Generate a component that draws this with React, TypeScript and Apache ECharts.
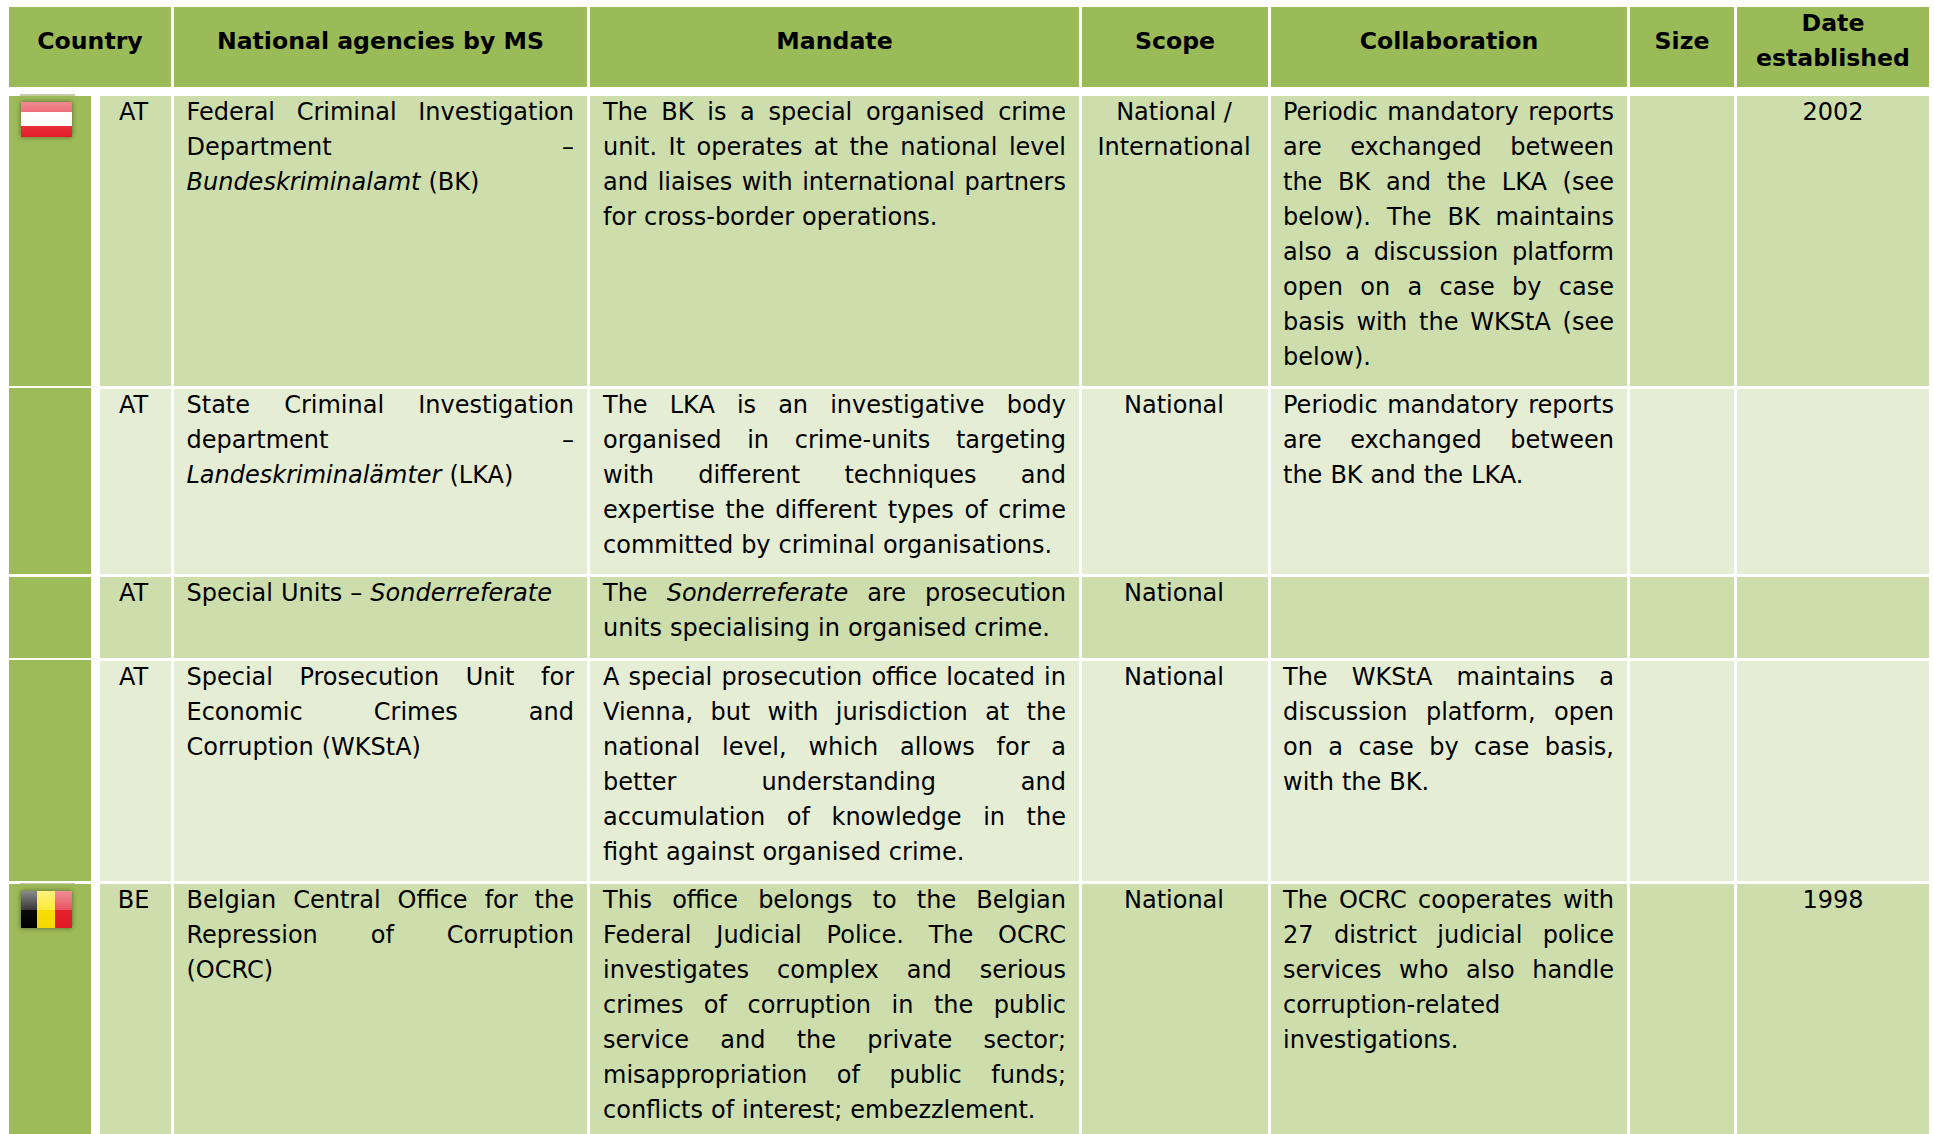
import React, { useEffect, useRef } from "react";
import * as echarts from "echarts";

const WIDTH = 1934;
const HEIGHT = 1134;

const headers = [["Country"], ["National agencies by MS"], ["Mandate"], ["Scope"], ["Collaboration"], ["Size"], ["Date", "established"]];
const countries = ["AT", "AT", "AT", "AT", "BE"];
const agencies = [
  ["Federal Criminal Investigation", "Department –", "*Bundeskriminalamt* (BK)"],
  ["State Criminal Investigation", "department –", "*Landeskriminalämter* (LKA)"],
  ["Special Units – *Sonderreferate*"],
  ["Special Prosecution Unit for", "Economic Crimes and", "Corruption (WKStA)"],
  ["Belgian Central Office for the", "Repression of Corruption", "(OCRC)"],
];
const mandates = [
  ["The BK is a special organised crime", "unit. It operates at the national level", "and liaises with international partners", "for cross-border operations."],
  ["The LKA is an investigative body", "organised in crime-units targeting", "with different techniques and", "expertise the different types of crime", "committed by criminal organisations."],
  ["The *Sonderreferate* are prosecution", "units specialising in organised crime."],
  ["A special prosecution office located in", "Vienna, but with jurisdiction at the", "national level, which allows for a", "better understanding and", "accumulation of knowledge in the", "fight against organised crime."],
  ["This office belongs to the Belgian", "Federal Judicial Police. The OCRC", "investigates complex and serious", "crimes of corruption in the public", "service and the private sector;", "misappropriation of public funds;", "conflicts of interest; embezzlement."],
];
const scopes = [["National /", "International"], ["National"], ["National"], ["National"], ["National"]];
const collaborations = [
  ["Periodic mandatory reports", "are exchanged between", "the BK and the LKA (see", "below). The BK maintains", "also a discussion platform", "open on a case by case", "basis with the WKStA (see", "below)."],
  ["Periodic mandatory reports", "are exchanged between", "the BK and the LKA."],
  [],
  ["The WKStA maintains a", "discussion platform, open", "on a case by case basis,", "with the BK."],
  ["The OCRC cooperates with", "27 district judicial police", "services who also handle", "corruption-related", "investigations."],
];
const sizes = ["", "", "", "", ""];
const dates = ["2002", "", "", "", "1998"];

const FONT = '"DejaVu Sans"';
const SIZE = 24;
const HEAD_SIZE = 23.6;
const LINE = 35;
const SPACE = 8;
const BASE_TO_CENTER = 8;

const colX = [[9, 91], [100, 171], [174, 587], [590, 1079], [1082, 1268], [1271, 1627], [1630, 1734], [1737, 1929]];
const headerX = [[9, 171], [174, 587], [590, 1079], [1082, 1268], [1271, 1627], [1630, 1734], [1737, 1929]];
const rowY = [[96, 386], [389, 574], [577, 658], [661, 881], [884, 1134]];
const firstColY = [[96, 386], [388, 574], [577, 658], [660, 881], [884, 1134]];
const HEADER_Y = [7, 87];
const PAD_L = [186.5, 603, 1283];
const PAD_R = [574, 1066, 1614];

const canvas = document.createElement("canvas");
const ctx = canvas.getContext("2d")!;
const measure = (t: string, font: string) => {
  ctx.font = font;
  return ctx.measureText(t).width;
};
const fontOf = (italic: boolean, bold = false) => `${italic ? "italic " : ""}${bold ? "bold " : ""}${bold ? HEAD_SIZE : SIZE}px ${FONT}`;

type Word = { x: number; y: number; text: string; font: string; align: string };
type Cell = { x0: number; y0: number; x1: number; y1: number; fill: string };

const words: Word[] = [];
const cells: Cell[] = [];

const HEAD = "#9BBB59";
const BAND1 = "#CDDDAC";
const BAND2 = "#E6EDD5";
const FIRST = "#9DBB59";

headerX.forEach(([a, b]) => cells.push({ x0: a, x1: b, y0: HEADER_Y[0], y1: HEADER_Y[1], fill: HEAD }));
rowY.forEach(([t, b], r) => {
  cells.push({ x0: colX[0][0], x1: colX[0][1], y0: firstColY[r][0], y1: firstColY[r][1], fill: FIRST });
  colX.slice(1).forEach(([a, c]) => cells.push({ x0: a, x1: c, y0: t, y1: b, fill: r % 2 === 0 ? BAND1 : BAND2 }));
});

headers.forEach((lines, i) => {
  const cx = (headerX[i][0] + headerX[i][1]) / 2;
  const ys = lines.length === 2 ? [31, 66] : [49];
  lines.forEach((l, k) => words.push({ x: cx, y: ys[k], text: l, font: fontOf(false, true), align: "center" }));
});

const justified = (lines: string[], col: number, top: number) => {
  lines.forEach((line, li) => {
    const y = top + 24 + li * LINE;
    const tokens = line.split(" ").map((w) => {
      const it = w.startsWith("*");
      return { text: w.replace(/\*/g, ""), font: fontOf(it) };
    });
    const total = tokens.reduce((s, t) => s + measure(t.text, t.font), 0);
    const last = li === lines.length - 1;
    const gap = last || tokens.length < 2 ? SPACE : (PAD_R[col] - PAD_L[col] - total) / (tokens.length - 1);
    let x = PAD_L[col];
    tokens.forEach((t) => {
      words.push({ x, y, text: t.text, font: t.font, align: "left" });
      x += measure(t.text, t.font) + gap;
    });
  });
};
const centered = (lines: string[], cx: number, top: number) =>
  lines.forEach((l, k) => words.push({ x: cx, y: top + 24 + k * LINE, text: l, font: fontOf(false), align: "center" }));

rowY.forEach(([t], r) => {
  centered([countries[r]], 133.5, t);
  justified(agencies[r], 0, t);
  justified(mandates[r], 1, t);
  centered(scopes[r], 1174, t);
  justified(collaborations[r], 2, t);
  if (sizes[r]) centered([sizes[r]], 1682, t);
  if (dates[r]) centered([dates[r]], 1833, t);
});

const grad = (a: string, b: string) =>
  new echarts.graphic.LinearGradient(0, 0, 0, 1, [
    { offset: 0, color: a },
    { offset: 1, color: b },
  ]);

const flags = [
  {
    top: 102, bottom: 137, lineY: 94, lineH: 2,
    stripes: [
      { x0: 21, x1: 72, y0: 102, y1: 112, fill: () => grad("#EF8A93", "#EE6F79") },
      { x0: 21, x1: 72, y0: 112, y1: 126, fill: () => grad("#FFFFFF", "#FBFBFB") },
      { x0: 21, x1: 72, y0: 126, y1: 137, fill: () => grad("#E8303B", "#E31B27") },
    ],
  },
  {
    top: 891, bottom: 928, lineY: 883, lineH: 1,
    stripes: [
      { x0: 21, x1: 37, y0: 891, y1: 928, fill: () => new echarts.graphic.LinearGradient(0, 0, 0, 1, [{ offset: 0, color: "#8A8A8A" }, { offset: 0.5, color: "#3A3A3A" }, { offset: 0.52, color: "#0A0A0A" }, { offset: 1, color: "#000000" }]) },
      { x0: 37, x1: 55, y0: 891, y1: 928, fill: () => new echarts.graphic.LinearGradient(0, 0, 0, 1, [{ offset: 0, color: "#FDF27A" }, { offset: 0.5, color: "#FCEB3C" }, { offset: 0.52, color: "#F8DE06" }, { offset: 1, color: "#F5D800" }]) },
      { x0: 55, x1: 72, y0: 891, y1: 928, fill: () => new echarts.graphic.LinearGradient(0, 0, 0, 1, [{ offset: 0, color: "#EE8F96" }, { offset: 0.5, color: "#E85560" }, { offset: 0.52, color: "#E3202C" }, { offset: 1, color: "#E01B27" }]) },
    ],
  },
];

export default function App() {
  const ref = useRef<HTMLDivElement>(null);
  useEffect(() => {
    document.body.style.margin = "0";
    document.body.style.background = "#fff";
    const chart = echarts.init(ref.current!, undefined, { renderer: "svg" });
    chart.setOption({
      animation: false,
      backgroundColor: "#ffffff",
      grid: { left: 0, right: 0, top: 0, bottom: 0, containLabel: false },
      xAxis: { type: "value", min: 0, max: WIDTH, show: false },
      yAxis: { type: "value", min: 0, max: HEIGHT, inverse: true, show: false },
      series: [
        {
          type: "custom",
          coordinateSystem: "cartesian2d",
          clip: false,
          silent: true,
          data: cells.map((c) => [c.x0, c.y0, c.x1, c.y1]),
          renderItem: (p: any, api: any) => {
            const a = api.coord([api.value(0), api.value(1)]);
            const b = api.coord([api.value(2), api.value(3)]);
            return { type: "rect", shape: { x: a[0], y: a[1], width: b[0] - a[0], height: b[1] - a[1] }, style: { fill: cells[p.dataIndex].fill } };
          },
        },
        {
          type: "custom",
          coordinateSystem: "cartesian2d",
          clip: false,
          silent: true,
          data: flags.map((f) => [f.top, f.bottom]),
          renderItem: (p: any, api: any) => {
            const f = flags[p.dataIndex];
            const rect = (x0: number, y0: number, x1: number, y1: number, style: any) => {
              const a = api.coord([x0, y0]);
              const b = api.coord([x1, y1]);
              return { type: "rect", shape: { x: a[0], y: a[1], width: b[0] - a[0], height: b[1] - a[1] }, style };
            };
            return {
              type: "group",
              children: [
                rect(20, f.lineY, 75, f.lineY + f.lineH, { fill: "#C4CDA8" }),
                rect(21, f.top, 72, f.bottom, { fill: "#808060", shadowBlur: 5, shadowColor: "rgba(60,60,30,0.75)" }),
                ...f.stripes.map((s) => rect(s.x0, s.y0, s.x1, s.y1, { fill: s.fill() })),
              ],
            };
          },
        },
        {
          type: "custom",
          coordinateSystem: "cartesian2d",
          clip: false,
          silent: true,
          data: words.map((w) => [w.x, w.y]),
          renderItem: (p: any, api: any) => {
            const w = words[p.dataIndex];
            const c = api.coord([api.value(0), api.value(1) - BASE_TO_CENTER]);
            return {
              type: "text",
              style: { x: c[0], y: c[1], text: w.text, font: w.font, fill: "#000000", align: w.align, verticalAlign: "middle" },
            };
          },
        },
      ],
    });
    return () => chart.dispose();
  }, []);
  return <div ref={ref} style={{ position: "fixed", left: 0, top: 0, width: WIDTH, height: HEIGHT }} />;
}
